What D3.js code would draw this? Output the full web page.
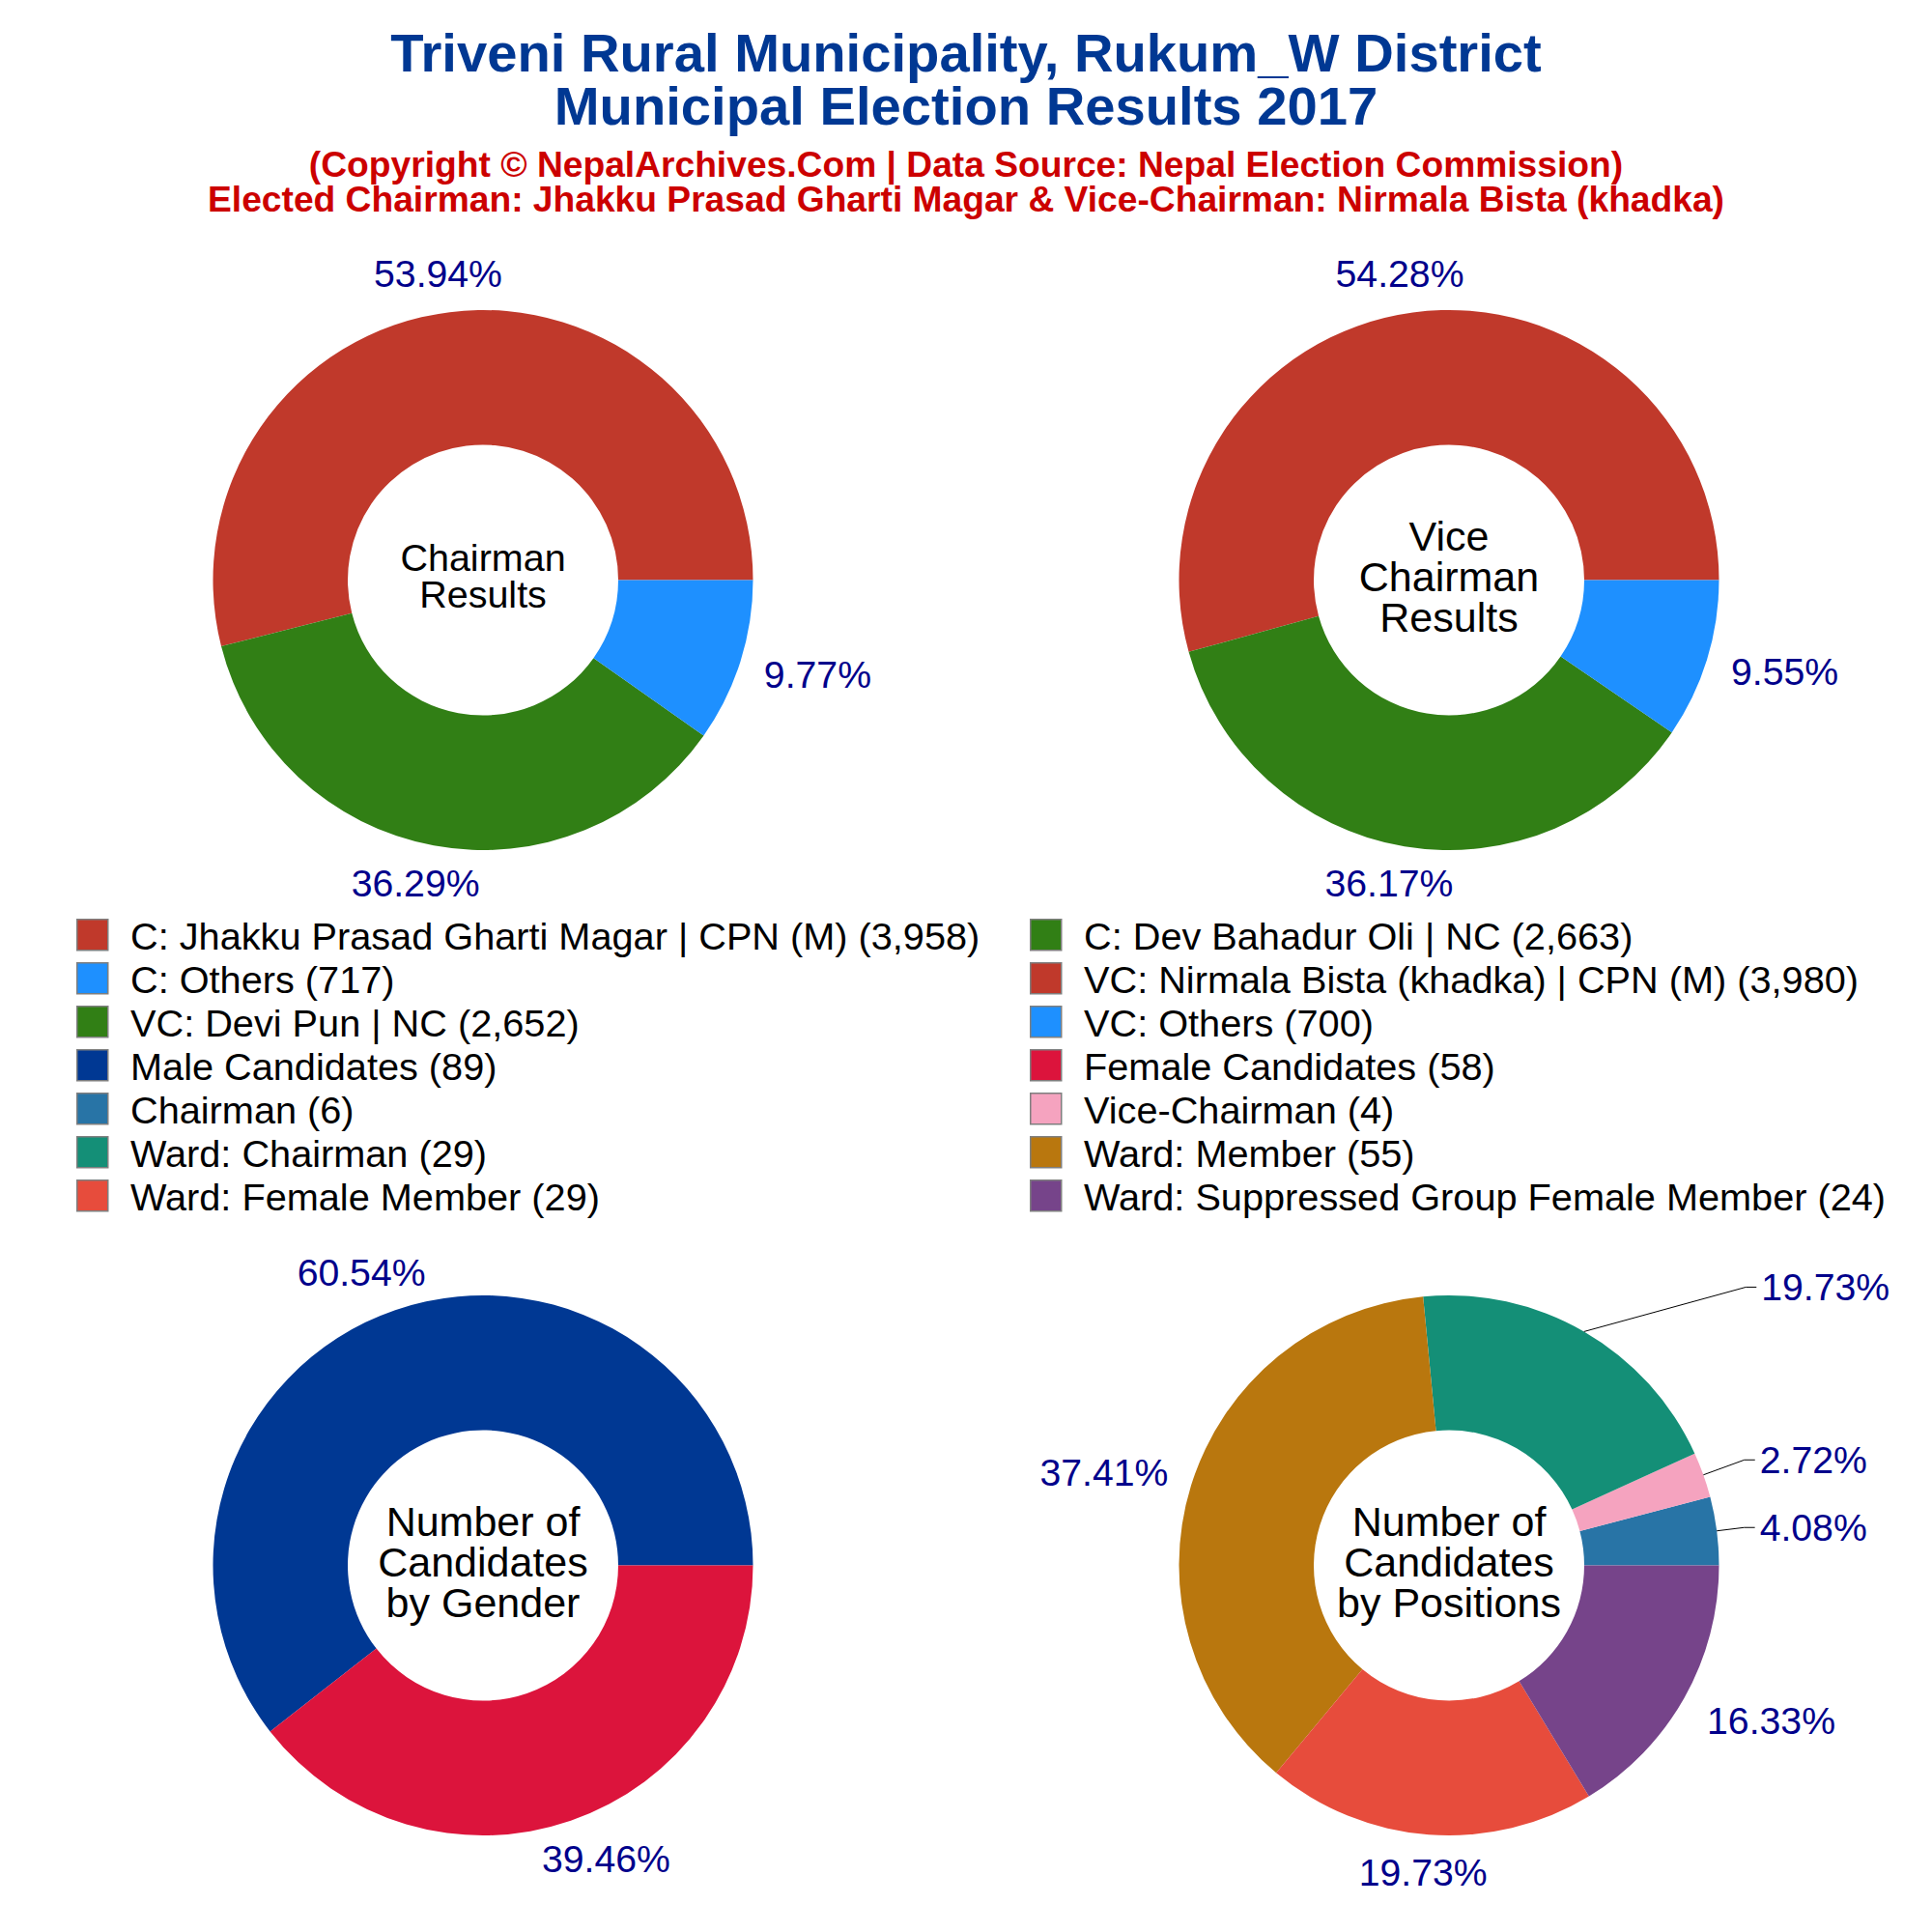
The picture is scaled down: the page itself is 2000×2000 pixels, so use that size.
<!DOCTYPE html>
<html>
<head>
<meta charset="utf-8">
<script src="https://cdn.jsdelivr.net/npm/d3@7"></script>
<style>
  html, body { margin: 0; padding: 0; background: #fff; }
  text { font-family: "Liberation Sans", Arial, sans-serif; }
</style>
</head>
<body>
<svg id="chart" width="2000" height="2000"></svg>
<script>
const titleLines = ["Triveni Rural Municipality, Rukum_W District", "Municipal Election Results 2017"];
const subtitleLines = [
  "(Copyright © NepalArchives.Com | Data Source: Nepal Election Commission)",
  "Elected Chairman: Jhakku Prasad Gharti Magar & Vice-Chairman: Nirmala Bista (khadka)"
];

const chairmanLabels = ["C: Jhakku Prasad Gharti Magar | CPN (M)", "C: Dev Bahadur Oli | NC", "C: Others"];
const chairmanValues = [3958, 2663, 717];
const viceLabels = ["VC: Nirmala Bista (khadka) | CPN (M)", "VC: Devi Pun | NC", "VC: Others"];
const viceValues = [3980, 2652, 700];
const genderLabels = ["Male Candidates", "Female Candidates"];
const genderValues = [89, 58];
const positionLabels = ["Chairman", "Vice-Chairman", "Ward: Chairman", "Ward: Member", "Ward: Female Member", "Ward: Suppressed Group Female Member"];
const positionValues = [6, 4, 29, 55, 29, 24];

const resultColors = ["#C0392B", "#317F15", "#1E90FF"];
const genderColors = ["#003893", "#DC143C"];
const positionColors = ["#2874A6", "#F5A3BF", "#148F77", "#B9770E", "#E74C3C", "#76448A"];

const svg = d3.select("#chart");
const outerR = 279.5, innerR = 140;
const fmtPct = d3.format(".2%");
const fmtNum = d3.format(",");

const pie = d3.pie().sort(null).startAngle(Math.PI / 2).endAngle(Math.PI / 2 - 2 * Math.PI);
const arc = d3.arc().innerRadius(innerR).outerRadius(outerR);

// title block
svg.selectAll(".title").data(titleLines).join("text")
  .attr("x", 1000).attr("y", (d, i) => 54 + i * 55).attr("dy", "0.35em")
  .attr("text-anchor", "middle").attr("font-size", 56.2).attr("font-weight", "bold")
  .attr("fill", "#003893").text(d => d);

svg.selectAll(".sub").data(subtitleLines).join("text")
  .attr("x", 1000).attr("y", (d, i) => 170.4 + i * 36).attr("dy", "0.35em")
  .attr("text-anchor", "middle").attr("font-size", 37.2).attr("font-weight", "bold")
  .attr("fill", "#CC0000").text(d => d);

function drawDonut(opts) {
  const g = svg.append("g").attr("transform", `translate(${opts.cx},${opts.cy})`);
  const arcs = pie(opts.values);
  const total = d3.sum(opts.values);

  g.selectAll("path").data(arcs).join("path")
    .attr("d", arc)
    .attr("fill", (d, i) => opts.colors[i]);

  // labels sit at the mid angle of the slice on the outer edge plus an offset
  arcs.forEach((d, i) => {
    const mid = (d.startAngle + d.endAngle) / 2;
    const px = Math.sin(mid) * outerR, py = -Math.cos(mid) * outerR;
    const off = opts.labelOffsets[i];
    const lx = px + off[0], ly = py + off[1];
    const t = g.append("text")
      .attr("x", lx).attr("y", ly).attr("dy", "0.35em")
      .attr("text-anchor", "middle").attr("font-size", 39.2)
      .attr("fill", "#00008B").text(fmtPct(d.value / total));
    if (opts.leaders && opts.leaders[i]) {
      const endX = lx - t.node().getComputedTextLength() / 2 - 5;
      g.append("polyline")
        .attr("points", [[px, py], [endX - 11, ly], [endX, ly]].join(" "))
        .attr("fill", "none").attr("stroke", "#000").attr("stroke-width", 1);
    }
  });

  opts.center.forEach((line, i) => {
    g.append("text")
      .attr("x", 0).attr("y", (i - (opts.center.length - 1) / 2) * opts.centerStep - 4)
      .attr("dy", "0.35em").attr("text-anchor", "middle")
      .attr("font-size", opts.centerSize).attr("fill", "#000").text(line);
  });
}

drawDonut({
  cx: 500, cy: 600.5, values: chairmanValues, colors: resultColors,
  center: ["Chairman", "Results"], centerSize: 39.5, centerStep: 38,
  labelOffsets: [[-12, -40], [-19, 38.5], [80, 13]]
});
drawDonut({
  cx: 1500, cy: 600.5, values: viceValues, colors: resultColors,
  center: ["Vice", "Chairman", "Results"], centerSize: 43, centerStep: 42,
  labelOffsets: [[-13.5, -40], [-16, 38.5], [80.5, 12.5]]
});
drawDonut({
  cx: 500, cy: 1620.5, values: genderValues, colors: genderColors,
  center: ["Number of", "Candidates", "by Gender"], centerSize: 43, centerStep: 42,
  labelOffsets: [[-35, -39], [36.5, 39.5]]
});
drawDonut({
  cx: 1500, cy: 1620.5, values: positionValues, colors: positionColors,
  center: ["Number of", "Candidates", "by Positions"], centerSize: 43, centerStep: 42,
  labelOffsets: [[100, -3.5], [114, -15.5], [250, -46], [-90, -13.5], [-6, 39.5], [90, 23.5]],
  leaders: [true, true, true, false, false, false]
});

// legend runs row by row across two columns
const legendItems = [];
function addLegend(labels, values, colors) {
  labels.forEach((l, i) => legendItems.push({ name: `${l} (${fmtNum(values[i])})`, color: colors[i] }));
}
addLegend(chairmanLabels, chairmanValues, resultColors);
addLegend(viceLabels, viceValues, resultColors);
addLegend(genderLabels, genderValues, genderColors);
addLegend(positionLabels, positionValues, positionColors);

const columnX = [79, 1066];
const legend = svg.selectAll(".legend").data(legendItems).join("g")
  .attr("transform", (d, i) => `translate(${columnX[i % 2]},${969 + Math.floor(i / 2) * 45})`);
legend.append("rect")
  .attr("x", 0.75).attr("y", -17.25).attr("width", 32).attr("height", 32)
  .attr("fill", d => d.color).attr("stroke", "#7f7f7f").attr("stroke-width", 1.5);
legend.append("text")
  .attr("x", 56).attr("dy", "0.35em").attr("font-size", 39.7).attr("fill", "#000")
  .text(d => d.name);
</script>
</body>
</html>
